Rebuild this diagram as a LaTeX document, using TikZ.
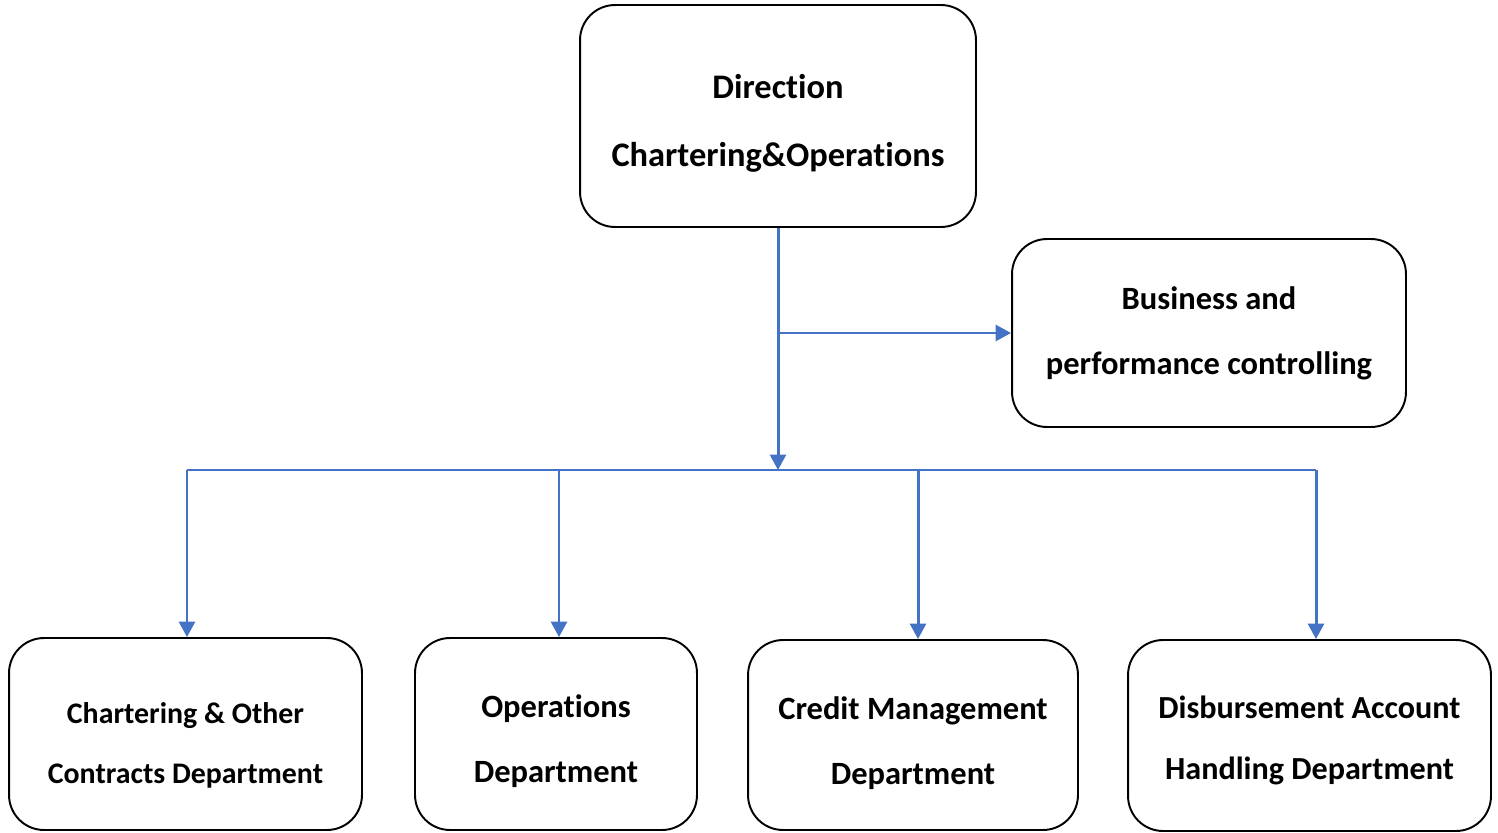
\documentclass[tikz,border=0pt]{standalone}
\usepackage{fontspec}
\setmainfont{Carlito}[Ligatures=NoCommon]
\usetikzlibrary{positioning,arrows.meta}
\definecolor{linkblue}{HTML}{4472C4}

\tikzset{
  unit/.style={draw, line width=1.1pt, rounded corners=0.7cm, align=center,
    inner sep=0pt, font=\bfseries\fontsize{18.5}{37}\selectfont},
  unitfont/.style 2 args={font=\bfseries\fontsize{#1}{#2}\selectfont},
  textlow/.style={text depth=10pt, text height=#1},
  link/.style={linkblue, line width=1.7pt, -{Triangle[length=0.31cm, width=0.32cm]}}
}

\begin{document}
\begin{tikzpicture}[x=0.02cm, y=-0.02cm]
\useasboundingbox (0,0) rectangle (1498,832);

% Top: direction and the staff unit beside it
\node[unit, unitfont={19.6}{39}, textlow=67.8pt,
  minimum width=7.92cm, minimum height=4.44cm] (dir) at (778,116)
  {Direction\\Chartering\&Operations};
\node[unit, minimum width=7.88cm, minimum height=3.76cm] (biz) at (1209,333)
  {Business and\\performance controlling};

% Bottom row of departments
\node[unit, unitfont={17}{34}, textlow=66.1pt,
  minimum width=7.06cm, minimum height=3.84cm] (chart) at (185.5,734)
  {Chartering \& Other\\Contracts Department};
\node[unit, textlow=65pt, minimum width=5.64cm, minimum height=3.84cm] (ops) at (556,734)
  {Operations\\Department};
\node[unit, textlow=66.1pt, minimum width=6.6cm, minimum height=3.8cm] (cred) at (913,735)
  {Credit Management\\Department};
\node[unit, unitfont={18.3}{34.6}, textlow=59.8pt,
  minimum width=7.26cm, minimum height=3.82cm] (disb) at (1309.5,735.5)
  {Disbursement Account\\Handling Department};

% Distribution line and its drop points
\coordinate (bus) at (778,470);
\coordinate (drop1) at (187,470);
\coordinate (drop2) at (559,470);
\coordinate (drop3) at (918,470);
\coordinate (drop4) at (1316,470);
\draw[linkblue, line width=1.1pt] (drop1) -- (drop4);

% Connectors
\draw[link] (dir.south) -- (bus);
\draw[link] (dir.south |- biz.west) -- (biz.west);
\draw[link] (drop1) -- (drop1 |- chart.north);
\draw[link] (drop2) -- (drop2 |- ops.north);
\draw[link] (drop3) -- (drop3 |- cred.north);
\draw[link] (drop4) -- (drop4 |- disb.north);
\end{tikzpicture}
\end{document}
